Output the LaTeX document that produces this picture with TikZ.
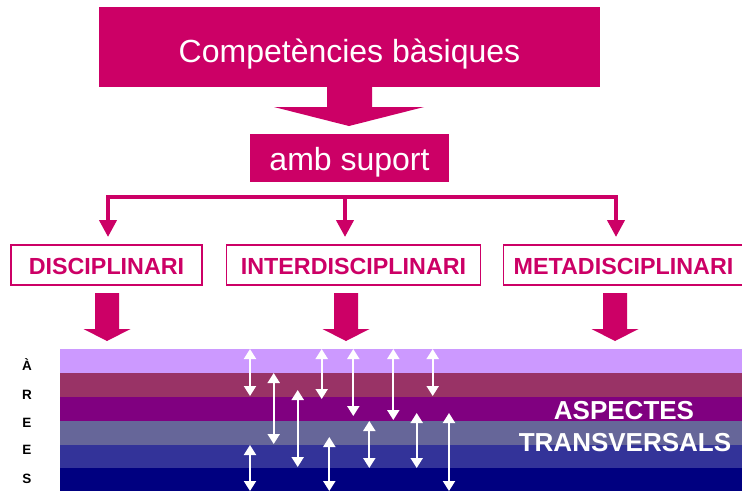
\documentclass[tikz,border=0pt]{standalone}
\usepackage{fontspec}
\setmainfont{Liberation Sans}
\usetikzlibrary{arrows.meta}
\definecolor{mag}{HTML}{CC0066}
\definecolor{bandA}{HTML}{CC99FF}
\definecolor{bandB}{HTML}{993366}
\definecolor{bandC}{HTML}{800080}
\definecolor{bandD}{HTML}{666699}
\definecolor{bandE}{HTML}{333399}
\definecolor{bandF}{HTML}{000080}
\tikzset{
  topbox/.style={fill=mag,draw=none,text=white,inner sep=0pt,text depth=0pt,font=\fontsize{32}{36}\selectfont},
  levbox/.style={draw=mag,line width=1.2pt,fill=white,text=mag,inner sep=0pt,text height=18pt,text depth=0pt,font=\bfseries\fontsize{23.3}{26}\selectfont},
  blockarrow/.style={fill=mag,draw=none},
  conn/.style={draw=mag,line width=3.5pt},
  connarrow/.style={draw=mag,line width=4pt,-{Triangle[width=17pt,length=17pt]}},
  dbl/.style={draw=white,line width=2pt,{Triangle[width=12pt,length=10pt]}-{Triangle[width=12pt,length=10pt]}},
  arealetter/.style={anchor=base,inner sep=0pt,font=\bfseries\fontsize{13.5}{15}\selectfont,text=black},
  transv/.style={anchor=base,inner sep=0pt,text=white,font=\bfseries\fontsize{26}{32}\selectfont}
}
\begin{document}
\begin{tikzpicture}[x=1pt,y=-1pt]
\useasboundingbox (0,0) rectangle (742,491);
\fill[white] (0,0) rectangle (742,491);
% top box
\node[topbox,text height=30pt,minimum width=501pt,minimum height=80pt] (comp) at (349.5,47) {Competències bàsiques};
% big arrow
\fill[blockarrow] (327,87) -- (372,87) -- (372,107) -- (424,107) -- (349,126) -- (274,107) -- (327,107) -- cycle;
\node[topbox,text height=24pt,minimum width=199pt,minimum height=48pt] (amb) at (349.5,158) {amb suport};
% connectors
\coordinate (hl) at (108,197);
\coordinate (hr) at (616,197);
\coordinate (hm) at (345,197);
\draw[conn] ([xshift=-1.75pt]hl) -- ([xshift=1.75pt]hr);
% level boxes
\node[levbox,minimum width=191pt,minimum height=40pt] (dis) at (106.5,265) {DISCIPLINARI};
\node[levbox,minimum width=254pt,minimum height=40pt] (inter) at (353.5,265) {INTERDISCIPLINARI};
\node[levbox,minimum width=240pt,minimum height=40pt] (meta) at (623.5,265) {METADISCIPLINARI};
\draw[connarrow] (hl) -- (hl |- 0,237);
\draw[connarrow] (hm) -- (hm |- 0,237);
\draw[connarrow] (hr) -- (hr |- 0,237);
% block arrows below boxes
\foreach \cx in {107,346,615}{
  \fill[blockarrow] (\cx-12,293) -- (\cx+12,293) -- (\cx+12,329) -- (\cx+23.5,329) -- (\cx,341) -- (\cx-23.5,329) -- (\cx-12,329) -- cycle;
}
% bands
\fill[bandA] (60,349) rectangle (742,373);
\fill[bandB] (60,373) rectangle (742,397);
\fill[bandC] (60,397) rectangle (742,421);
\fill[bandD] (60,421) rectangle (742,445);
\fill[bandE] (60,445) rectangle (742,468);
\fill[bandF] (60,468) rectangle (742,491);
% letters
\node[arealetter] (l1) at (27,370) {À};
\node[arealetter] (l2) at (27,399) {R};
\node[arealetter] (l3) at (27,427) {E};
\node[arealetter] (l4) at (27,454) {E};
\node[arealetter] (l5) at (27,483) {S};
% double arrows
\foreach \ax/\ya/\yb in {250/349/396, 273.7/373/444, 297.7/390/467, 321.7/349/399, 353.3/349/416, 393.3/349/420, 432.7/349/396, 250/445/491, 329.3/437/491, 369.3/421/468, 416.7/413/468, 449/413/491}{
  \coordinate (a1) at (\ax,\ya);
  \coordinate (a2) at (\ax,\yb);
  \draw[dbl] (a1) -- (a2);
}
\node[transv] (asp) at (624,419) {ASPECTES};
\node[transv] (trv) at (625,451) {TRANSVERSALS};
\end{tikzpicture}
\end{document}
